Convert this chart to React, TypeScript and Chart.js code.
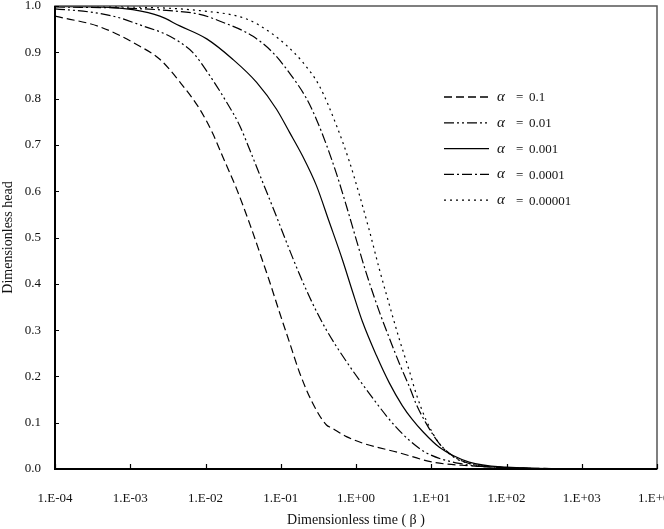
import React, { useEffect, useRef } from 'react';
import { Chart, registerables } from 'chart.js';

Chart.register(...registerables);

// ---- data ----
const alphaLabels = ['0.1', '0.01', '0.001', '0.0001', '0.00001'];

const xTickValues = [1e-4, 1e-3, 1e-2, 1e-1, 1e0, 1e1, 1e2, 1e3, 1e4];
const xTickLabels = ['1.E-04', '1.E-03', '1.E-02', '1.E-01', '1.E+00', '1.E+01', '1.E+02', '1.E+03', '1.E+04'];

// alpha = 0.1
const time1 = [1e-4, 3.95e-4, 1.34e-3, 2.47e-3, 4.55e-3, 8.4e-3, 0.01245, 0.0169, 0.0259, 0.0386, 0.0524, 0.071, 0.0964, 0.131, 0.178, 0.264, 0.405, 0.472, 0.746, 1.22, 3.77, 10.3, 31.9, 100, 1000];
const head1 = [0.978, 0.955, 0.913, 0.885, 0.836, 0.777, 0.725, 0.675, 0.605, 0.53, 0.468, 0.405, 0.338, 0.273, 0.208, 0.143, 0.095, 0.089, 0.07, 0.056, 0.035, 0.015, 0.007, 0.003, 0];

// alpha = 0.01
const time2 = [1e-4, 2.91e-4, 6.64e-4, 1.47e-3, 2.88e-3, 4.55e-3, 6.76e-3, 0.01137, 0.0191, 0.0284, 0.0386, 0.0574, 0.0879, 0.119, 0.178, 0.264, 0.405, 0.746, 1.37, 2.53, 3.43, 5.11, 8.59, 23.5, 100, 1000];
const head2 = [0.994, 0.987, 0.976, 0.957, 0.94, 0.922, 0.9, 0.85, 0.792, 0.742, 0.69, 0.62, 0.545, 0.49, 0.42, 0.358, 0.3, 0.232, 0.172, 0.115, 0.09, 0.062, 0.035, 0.012, 0.003, 0];

// alpha = 0.001
const time3 = [1e-4, 5.36e-4, 1.08e-3, 2.47e-3, 4.55e-3, 0.01038, 0.023, 0.0478, 0.0879, 0.131, 0.195, 0.298, 0.438, 0.66, 0.896, 1.22, 1.87, 2.77, 4.12, 5.59, 7.6, 12.8, 31.9, 100, 1000];
const head3 = [0.999, 0.997, 0.992, 0.978, 0.957, 0.929, 0.885, 0.835, 0.777, 0.727, 0.676, 0.612, 0.535, 0.452, 0.384, 0.318, 0.245, 0.186, 0.137, 0.107, 0.082, 0.047, 0.015, 0.004, 0];

// alpha = 0.0001
const time4 = [1e-4, 1e-3, 3.35e-3, 8.4e-3, 0.0169, 0.0423, 0.0778, 0.131, 0.22, 0.298, 0.405, 0.55, 0.746, 1.01, 1.37, 2.04, 2.77, 3.77, 5.11, 6.32, 8.59, 12.8, 23.5, 100, 1000];
const head4 = [0.998, 0.995, 0.99, 0.982, 0.965, 0.935, 0.9, 0.855, 0.8, 0.755, 0.7, 0.638, 0.568, 0.495, 0.423, 0.34, 0.283, 0.228, 0.178, 0.14, 0.098, 0.055, 0.02, 0.003, 0];

// alpha = 0.00001
const time5 = [1e-4, 1e-3, 8.4e-3, 0.0352, 0.071, 0.119, 0.195, 0.327, 0.55, 0.817, 1.11, 1.51, 2.04, 2.77, 3.77, 5.11, 6.32, 8.59, 12.8, 20.2, 31.9, 100, 1000];
const head5 = [1.0, 0.998, 0.99, 0.972, 0.944, 0.915, 0.879, 0.827, 0.742, 0.664, 0.592, 0.514, 0.432, 0.355, 0.28, 0.212, 0.162, 0.105, 0.055, 0.025, 0.012, 0.003, 0];

const seriesTimes = [time1, time2, time3, time4, time5];
const seriesHeads = [head1, head2, head3, head4, head5];
const seriesDashes: number[][] = [
  [8, 4],
  [10, 3, 2, 3, 2, 3],
  [],
  [10, 3, 2, 3],
  [2, 4],
];

const FONT = "'Liberation Serif', 'Times New Roman', serif";

const framePlugin = {
  id: 'framePlugin',
  afterDraw(chart: any) {
    const { ctx, chartArea: a, scales } = chart;
    ctx.save();
    // full box
    ctx.setLineDash([]);
    ctx.strokeStyle = '#555';
    ctx.lineWidth = 1.5;
    ctx.strokeRect(a.left, a.top, a.right - a.left, a.bottom - a.top);
    // axes
    ctx.strokeStyle = '#000';
    ctx.lineWidth = 2;
    ctx.beginPath();
    ctx.moveTo(a.left, a.top);
    ctx.lineTo(a.left, a.bottom);
    ctx.lineTo(a.right, a.bottom);
    ctx.stroke();
    // inward tick marks
    ctx.lineWidth = 1.2;
    ctx.beginPath();
    scales.x.ticks.forEach((t: any) => {
      const px = Math.round(scales.x.getPixelForValue(t.value)) + 0.5;
      ctx.moveTo(px, a.bottom);
      ctx.lineTo(px, a.bottom - 5);
    });
    scales.y.ticks.forEach((t: any) => {
      const py = Math.round(scales.y.getPixelForValue(t.value)) + 0.5;
      ctx.moveTo(a.left, py);
      ctx.lineTo(a.left + 4, py);
    });
    ctx.stroke();

    // legend
    const lx0 = 444;
    const lx1 = 489;
    const ly0 = 97;
    const step = 25.8;
    ctx.fillStyle = '#111';
    ctx.textBaseline = 'middle';
    ctx.textAlign = 'left';
    chart.data.datasets.forEach((ds: any, i: number) => {
      const y = ly0 + i * step;
      ctx.strokeStyle = '#000';
      ctx.lineWidth = 1.3;
      ctx.setLineDash(ds.borderDash || []);
      ctx.beginPath();
      ctx.moveTo(lx0, y);
      ctx.lineTo(lx1, y);
      ctx.stroke();
      ctx.setLineDash([]);
      const parts = String(ds.label).split(' = ');
      ctx.font = `italic 15px ${FONT}`;
      ctx.fillText(parts[0], 497, y);
      ctx.font = `13px ${FONT}`;
      ctx.fillText('=', 516, y + 1);
      ctx.fillText(parts[1] || '', 529, y + 1);
    });
    ctx.restore();
  },
};

export default function App() {
  const ref = useRef<HTMLCanvasElement | null>(null);

  useEffect(() => {
    document.body.style.margin = '0';
    const canvas = ref.current;
    if (!canvas) return;
    const datasets = seriesTimes.map((ts, i) => ({
      label: `α = ${alphaLabels[i]}`,
      data: ts.map((t, j) => ({ x: t, y: seriesHeads[i][j] })),
      borderColor: '#000',
      borderWidth: 1.2,
      borderDash: seriesDashes[i],
      pointRadius: 0,
      fill: false,
      cubicInterpolationMode: 'monotone' as const,
    }));

    const chart = new Chart(canvas, {
      type: 'line',
      data: { datasets },
      options: {
        animation: false,
        responsive: false,
        devicePixelRatio: 1,
        layout: { padding: { top: 6, right: 43, bottom: 0, left: 0 } },
        plugins: { legend: { display: false }, tooltip: { enabled: false } },
        scales: {
          x: {
            type: 'logarithmic',
            min: 1e-4,
            max: 1e4,
            grid: { display: false, drawTicks: true, tickLength: 18 },
            border: { display: false },
            afterBuildTicks: (scale: any) => {
              scale.ticks = xTickValues.map((v) => ({ value: v }));
            },
            afterFit: (scale: any) => {
              scale.height = 60;
            },
            ticks: {
              autoSkip: false,
              maxRotation: 0,
              padding: 4,
              color: '#111',
              font: { family: FONT, size: 13 },
              callback: (v: any) => {
                const idx = xTickValues.findIndex((t) => Math.abs(Math.log10(t) - Math.log10(Number(v))) < 1e-6);
                return idx >= 0 ? xTickLabels[idx] : '';
              },
            },
            title: {
              display: true,
              text: 'Dimensionless time ( β )',
              color: '#111',
              font: { family: FONT, size: 14 },
              padding: { top: 0, bottom: 0 },
            },
          },
          y: {
            type: 'linear',
            min: 0,
            max: 1,
            grid: { display: false, drawTicks: true, tickLength: 14 },
            border: { display: false },
            afterFit: (scale: any) => {
              scale.width = 55;
            },
            ticks: {
              stepSize: 0.1,
              padding: 0,
              color: '#111',
              font: { family: FONT, size: 13, lineHeight: 0.9 },
              callback: (v: any) => Number(v).toFixed(1),
            },
            title: {
              display: true,
              text: 'Dimensionless head',
              color: '#111',
              font: { family: FONT, size: 14 },
              padding: { top: 0, bottom: 0 },
            },
          },
        },
      },
      plugins: [framePlugin],
    });
    return () => chart.destroy();
  }, []);

  return (
    <div style={{ position: 'fixed', left: 0, top: 0, width: 664, height: 529, overflow: 'hidden', background: '#fff' }}>
      <canvas ref={ref} width={700} height={529} style={{ width: 700, height: 529, display: 'block' }} />
    </div>
  );
}
